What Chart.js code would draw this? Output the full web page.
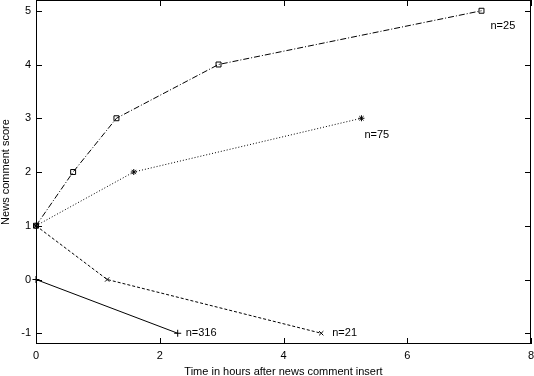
<!DOCTYPE html>
<html lang="en">
<head>
    <meta charset="UTF-8">
    <script src="https://cdn.jsdelivr.net/npm/chart.js"></script>
    <title>News comment score</title>
    <style>
        body { margin: 0; background: #fff; }
        #grafico { display: block; }
    </style>
</head>
<body>
    <canvas id="grafico" width="534" height="376"></canvas>

<script>
    // hours after insert / score, one pair per group
    const horasN25 = [0, 0.6, 1.3, 2.95, 7.2];
    const scoreN25 = [1, 2, 3, 4, 5];

    const horasN75 = [0, 1.58, 5.26];
    const scoreN75 = [1, 2, 3];

    const horasN21 = [0, 1.15, 4.61];
    const scoreN21 = [1, 0, -1];

    const horasN316 = [0, 2.29];
    const scoreN316 = [0, -1];

    const rotulos = ['n=25', 'n=75', 'n=21', 'n=316'];
    const xTicks = [0, 2, 4, 6, 8];
    const yTicks = [-1, 0, 1, 2, 3, 4, 5];

    const fonte = { family: 'Liberation Sans, Arial, sans-serif', size: 11, lineHeight: 1 };

    function pontos(xs, ys) {
        return xs.map((x, i) => ({ x: x, y: ys[i] }));
    }

    // no extra padding around the plot box
    function semPadding(s) {
        s.paddingLeft = 0;
        s.paddingRight = 0;
        s.paddingTop = 0;
        s.paddingBottom = 0;
    }

    // label offsets (px) from the last point of each series
    const deslocamentos = [[9, 15], [3, 17], [11, 0], [8, 0]];

    const caixaPlugin = {
        id: 'caixa',
        afterDatasetsDraw(chart) {
            const ctx = chart.ctx;
            const a = chart.chartArea;
            const sx = chart.scales.x, sy = chart.scales.y;
            ctx.save();
            ctx.strokeStyle = '#000';
            ctx.lineWidth = 1;
            ctx.strokeRect(Math.round(a.left) + 0.5, Math.round(a.top) + 0.5,
                Math.round(a.right - a.left) - 1, Math.round(a.bottom - a.top) - 1);
            const t = 6;
            ctx.beginPath();
            xTicks.forEach(v => {
                const px = Math.round(sx.getPixelForValue(v)) + 0.5;
                ctx.moveTo(px, a.bottom); ctx.lineTo(px, a.bottom - t);
                ctx.moveTo(px, a.top); ctx.lineTo(px, a.top + t);
            });
            yTicks.forEach(v => {
                const py = Math.round(sy.getPixelForValue(v)) + 0.5;
                ctx.moveTo(a.left, py); ctx.lineTo(a.left + t, py);
                ctx.moveTo(a.right, py); ctx.lineTo(a.right - t, py);
            });
            ctx.stroke();

            // n= labels next to the last point
            ctx.fillStyle = '#000';
            ctx.font = '11px Liberation Sans, Arial, sans-serif';
            ctx.textAlign = 'left';
            ctx.textBaseline = 'middle';
            chart.data.datasets.forEach((ds, i) => {
                const ult = ds.data[ds.data.length - 1];
                const px = sx.getPixelForValue(ult.x) + deslocamentos[i][0];
                const py = sy.getPixelForValue(ult.y) + deslocamentos[i][1];
                ctx.fillText(rotulos[i], px, py);
            });
            ctx.restore();
        }
    };

    const ctx = document.getElementById('grafico').getContext('2d');
    new Chart(ctx, {
        type: 'scatter',
        data: {
            datasets: [
                {
                    data: pontos(horasN25, scoreN25),
                    showLine: true,
                    clip: false,
                    borderColor: '#000',
                    borderWidth: 1,
                    borderDash: [6, 2, 1, 2],
                    pointStyle: 'rect',
                    pointRadius: 3.5,
                    pointBorderColor: '#000',
                    pointBackgroundColor: 'rgba(0,0,0,0)',
                    pointBorderWidth: 1
                },
                {
                    data: pontos(horasN75, scoreN75),
                    showLine: true,
                    clip: false,
                    borderColor: '#000',
                    borderWidth: 1,
                    borderDash: [1, 2],
                    pointStyle: 'star',
                    pointRadius: 3,
                    pointBorderColor: '#000',
                    pointBorderWidth: 1
                },
                {
                    data: pontos(horasN21, scoreN21),
                    showLine: true,
                    clip: false,
                    borderColor: '#000',
                    borderWidth: 1,
                    borderDash: [3, 2],
                    pointStyle: 'crossRot',
                    pointRadius: 3,
                    pointBorderColor: '#000',
                    pointBorderWidth: 1
                },
                {
                    data: pontos(horasN316, scoreN316),
                    showLine: true,
                    clip: false,
                    borderColor: '#000',
                    borderWidth: 1,
                    pointStyle: 'cross',
                    pointRadius: 3.5,
                    pointBorderColor: '#000',
                    pointBorderWidth: 1
                }
            ]
        },
        options: {
            responsive: false,
            animation: false,
            layout: { autoPadding: false, padding: { top: 0, right: 3, left: 0, bottom: 0 } },
            plugins: {
                legend: { display: false },
                tooltip: { enabled: false }
            },
            scales: {
                x: {
                    type: 'linear',
                    min: 0,
                    max: 8,
                    afterBuildTicks: s => { s.ticks = xTicks.map(v => ({ value: v })); },
                    afterFit: s => { s.height = 32; semPadding(s); },
                    grid: { display: false, drawTicks: false },
                    border: { display: false },
                    ticks: { color: '#000', font: fonte, padding: 6, maxRotation: 0 },
                    title: {
                        display: true,
                        text: 'Time in hours after news comment insert',
                        color: '#000',
                        font: fonte,
                        padding: { top: 0, bottom: -1 }
                    }
                },
                y: {
                    type: 'linear',
                    min: -1.2,
                    max: 5.2,
                    afterBuildTicks: s => { s.ticks = yTicks.map(v => ({ value: v })); },
                    afterFit: s => { s.width = 36; semPadding(s); },
                    grid: { display: false, drawTicks: false },
                    border: { display: false },
                    ticks: { color: '#000', font: fonte, padding: 5 },
                    title: {
                        display: true,
                        text: 'News comment score',
                        color: '#000',
                        font: fonte,
                        padding: { top: 0, bottom: 0 }
                    }
                }
            }
        },
        plugins: [caixaPlugin]
    });
</script>
</body>
</html>
